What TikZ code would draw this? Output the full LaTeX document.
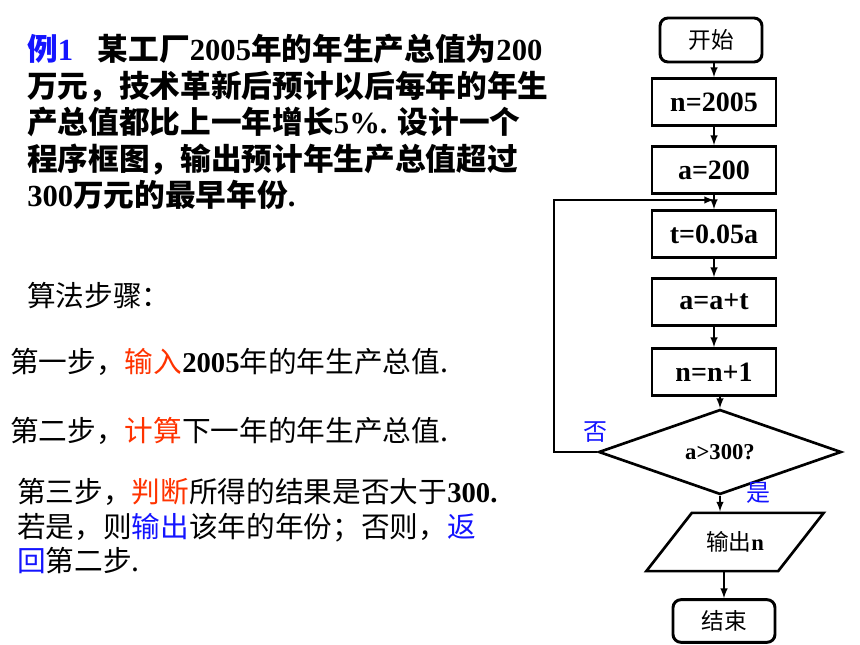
\documentclass[tikz,border=0pt]{standalone}
\usepackage{fontspec}
\setmainfont{Liberation Serif}
\newfontfamily\cjk{Noto Sans CJK SC}
\usetikzlibrary{shapes.geometric}
\definecolor{qblue}{RGB}{20,20,255}
\definecolor{qred}{RGB}{255,51,0}
\newcommand\num[1]{{\rmfamily\bfseries #1}}
\tikzset{
  term/.style={draw,line width=2.2pt,rounded corners=6pt,minimum width=76.5pt,minimum height=33pt,inner sep=0pt,font=\cjk\fontsize{17}{20}\selectfont},
  proc/.style={draw,line width=2.2pt,minimum width=93pt,minimum height=35pt,inner sep=0pt,font=\bfseries\fontsize{21}{25}\selectfont},
  decide/.style={draw,line width=2pt,diamond,minimum width=182pt,minimum height=51pt,inner sep=0pt,font=\bfseries\fontsize{17}{20}\selectfont},
  io/.style={draw,line width=2pt,trapezium,trapezium left angle=52,trapezium right angle=128,trapezium stretches body,minimum width=133pt,inner xsep=4pt,inner ysep=14pt,font=\fontsize{17}{20}\selectfont},
  flow/.style={->,line width=1.5pt},
  say/.style={anchor=west,inner sep=0pt,font=\cjk\fontsize{21.5}{26}\selectfont}
}
\begin{document}
\begin{tikzpicture}[x=0.75pt,y=-0.75pt,>=latex]
\useasboundingbox (0,0) rectangle (860,645);
% problem
\node[anchor=north west,align=left,inner sep=0pt,font=\bfseries\fontsize{23}{27.4}\selectfont] (prob) at (27,34)
  {{\color{qblue}{\cjk 例}1}\hspace{0.8em}{\cjk 某工厂}2005{\cjk 年的年生产总值为}200\\
   {\cjk 万元，技术革新后预计以后每年的年生}\\
   {\cjk 产总值都比上一年增长}5\%. {\cjk 设计一个}\\
   {\cjk 程序框图，输出预计年生产总值超过}\\
   300{\cjk 万元的最早年份}.};
% steps
\node[say] (algo) at (27,296) {算法步骤：};
\node[say] (step1) at (10,362) {第一步，{\color{qred}输入}\num{2005}年的年生产总值.};
\node[say] (step2) at (10,431) {第二步，{\color{qred}计算}下一年的年生产总值.};
\node[say,anchor=north west,align=left] (step3) at (17,478)
  {第三步，{\color{qred}判断}所得的结果是否大于\num{300.}\\
   若是，则{\color{qblue}输出}该年的年份；否则，{\color{qblue}返}\\
   {\color{qblue}回}第二步.};
% flow chart
\node[term] (start) at (711,40) {开始};
\node[proc] (n1) at (714,102) {n=2005};
\node[proc] (a1) at (714,170) {a=200};
\node[proc] (t1) at (714,234) {t=0.05a};
\node[proc] (a2) at (714,302) {a=a+t};
\node[proc] (n2) at (714,372) {n=n+1};
\node[decide] (dec) at (720,452) {a>300?};
\node[io] (out) at (735,542) {{\cjk 输出}\textbf{n}};
\node[term,minimum height=32pt] (stop) at (724,621) {结束};
\coordinate (back) at (714,200);
\node[font=\cjk\fontsize{18}{20}\selectfont,text=qblue,inner sep=0pt] (no) at (595,432) {否};
\node[font=\cjk\fontsize{18}{20}\selectfont,text=qblue,inner sep=0pt] (yes) at (758,493) {是};
\draw[flow] (n1.north |- start.south) -- (n1.north);
\draw[flow] (n1) -- (a1);
\draw[flow] (a1) -- (t1);
\draw[flow] (t1) -- (a2);
\draw[flow] (a2) -- (n2);
\draw[flow] (dec.north |- n2.south) -- (dec.north);
\draw[flow] (dec.west) -- ++(-43,0) |- (back);
\draw[flow] (dec.south) -- (dec.south |- out.north);
\draw[flow] (out.south -| stop.north) -- (stop.north);
\end{tikzpicture}
\end{document}
